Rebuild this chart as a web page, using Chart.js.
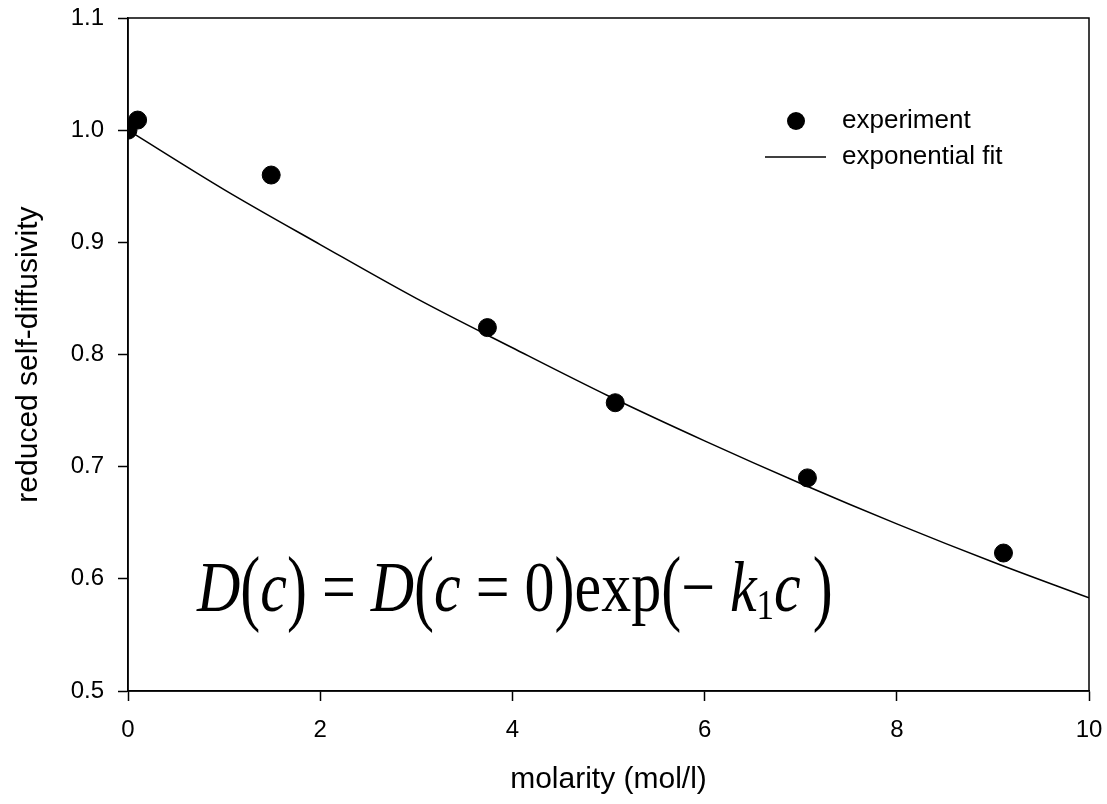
<!DOCTYPE html>
<html>
<head>
<meta charset="utf-8">
<script src="https://cdn.jsdelivr.net/npm/chart.js@4.4.1/dist/chart.umd.min.js"></script>
<style>
  html, body { margin: 0; padding: 0; background: #fff; }
</style>
</head>
<body>
<canvas id="diffusivity_chart" width="1107" height="804"></canvas>
<script>
// measured points
const molarity = [0, 0.1, 1.49, 3.74, 5.07, 7.07, 9.11]
const diffusivity = [1.0, 1.009, 0.960, 0.824, 0.757, 0.690, 0.623]

// exponential fit
const fitMolarity = [0, 1, 2, 3, 4, 5, 6, 7, 8, 9, 10]
const fitDiffusivity = [1.0, 0.947, 0.898, 0.850, 0.806, 0.763, 0.723, 0.685, 0.649, 0.615, 0.583]

const xTicks = [0, 2, 4, 6, 8, 10]
const yTicks = [0.5, 0.6, 0.7, 0.8, 0.9, 1.0, 1.1]

const FONT = '"Liberation Sans", Arial, sans-serif'
const SERIF = '"Liberation Serif", "Times New Roman", serif'

const toPoints = (xs, ys) => xs.map((x, i) => ({ x: x, y: ys[i] }))

// box round the plot + equation + legend
const decorations = {
    id: 'decorations',
    afterDraw(chart) {
        const c = chart.ctx
        const a = chart.chartArea
        c.save()
        c.strokeStyle = '#000'
        c.lineWidth = 1.5
        c.strokeRect(a.left, a.top, a.right - a.left, a.bottom - a.top)

        // legend
        const ly = 121
        c.fillStyle = '#000'
        c.beginPath()
        c.arc(796, ly, 9, 0, Math.PI * 2)
        c.fill()
        c.beginPath()
        c.moveTo(765, ly + 36)
        c.lineTo(826, ly + 36)
        c.stroke()
        c.font = '26px ' + FONT
        c.textBaseline = 'middle'
        c.textAlign = 'left'
        c.fillText(chart.data.datasets[0].label, 842, ly)
        c.fillText(chart.data.datasets[1].label, 842, ly + 36)

        // equation, a little stretched vertically like the original
        const parts = [
            ['D', 'italic'], ['(', 'paren'], ['c', 'italic'], [')', 'paren'],
            [' = ', 'normal'], ['D', 'italic'], ['(', 'paren'], ['c', 'italic'],
            [' = 0', 'normal'], [')', 'paren'], ['exp', 'normal'], ['(', 'paren'],
            ['\u2212 ', 'normal'], ['k', 'italic'], ['1', 'sub'], ['c', 'italic'], ['\u2009)', 'paren']
        ]
        let x = 197
        const base = 611
        c.textBaseline = 'alphabetic'
        for (const [txt, kind] of parts) {
            c.save()
            c.translate(x, base)
            if (kind === 'paren') {
                c.font = '60px ' + SERIF
                c.scale(1, 1.42)
                c.fillText(txt, 0, 3)
            } else if (kind === 'sub') {
                c.font = '35px ' + SERIF
                c.scale(1, 1.2)
                c.fillText(txt, 0, 7)
            } else {
                c.font = (kind === 'italic' ? 'italic ' : '') + '60px ' + SERIF
                c.scale(1, 1.2)
                c.fillText(txt, 0, 0)
            }
            x += c.measureText(txt).width
            c.restore()
        }
        c.restore()
    }
}

new Chart(document.getElementById('diffusivity_chart'), {
    type: 'scatter',
    data: {
        datasets: [{
            label: 'experiment',
            data: toPoints(molarity, diffusivity),
            backgroundColor: '#000',
            borderColor: '#000',
            pointRadius: 9,
            pointHoverRadius: 9,
            order: 1
        }, {
            label: 'exponential fit',
            data: toPoints(fitMolarity, fitDiffusivity),
            showLine: true,
            borderColor: '#000',
            borderWidth: 1.5,
            pointRadius: 0,
            tension: 0.4,
            cubicInterpolationMode: 'monotone',
            order: 2
        }]
    },
    options: {
        responsive: false,
        animation: false,
        devicePixelRatio: 1,
        layout: { padding: { top: 18, right: 18, left: 0, bottom: 0 } },
        plugins: {
            legend: { display: false },
            tooltip: { enabled: false }
        },
        scales: {
            x: {
                type: 'linear',
                min: 0,
                max: 10,
                afterBuildTicks: axis => { axis.ticks = xTicks.map(v => ({ value: v })) },
                afterFit: axis => {
                    axis.height = 113
                    axis.paddingLeft = 0
                    axis.paddingRight = 0
                },
                grid: { display: true, drawOnChartArea: false, tickLength: 10, tickColor: '#000', tickWidth: 1.5 },
                border: { display: true, color: '#000', width: 1.5 },
                ticks: { color: '#000', font: { family: FONT, size: 24 }, padding: 15, maxRotation: 0 },
                title: { display: true, text: 'molarity (mol/l)', color: '#000', font: { family: FONT, size: 30 }, padding: { top: 4, bottom: 6 } }
            },
            y: {
                min: 0.5,
                max: 1.1,
                afterBuildTicks: axis => { axis.ticks = yTicks.map(v => ({ value: v })) },
                afterFit: axis => {
                    axis.width = 128
                    axis.paddingTop = 0
                    axis.paddingBottom = 0
                },
                grid: { display: true, drawOnChartArea: false, tickLength: 10, tickColor: '#000', tickWidth: 1.5 },
                border: { display: true, color: '#000', width: 1.5 },
                ticks: { color: '#000', font: { family: FONT, size: 24 }, padding: 14, callback: v => v.toFixed(1) },
                title: { display: true, text: 'reduced self-diffusivity', color: '#000', font: { family: FONT, size: 30 }, padding: { top: 11, bottom: 4 } }
            }
        }
    },
    plugins: [decorations]
});
</script>
</body>
</html>
